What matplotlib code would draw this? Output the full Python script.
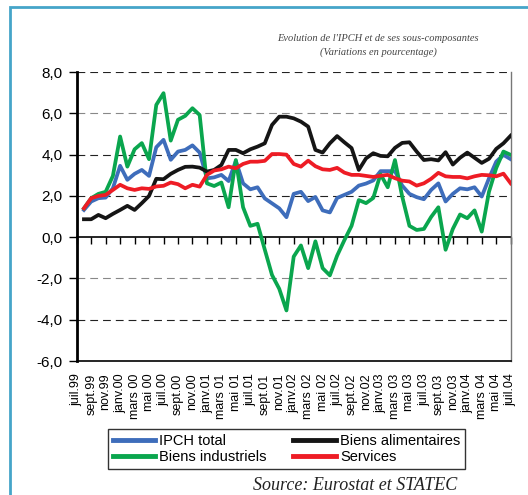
import numpy as np
import matplotlib
matplotlib.use("Agg")
import matplotlib.pyplot as plt
from matplotlib.patches import Rectangle

# month labels (every 2 months, juil.99 -> juil.04)
tick_labels = ["juil.99", "sept.99", "nov.99", "janv.00", "mars 00", "mai 00",
               "juil.00", "sept.00", "nov.00", "janv.01", "mars 01", "mai 01",
               "juil.01", "sept.01", "nov.01", "janv.02", "mars 02", "mai 02",
               "juil.02", "sept.02", "nov.02", "janv.03", "mars 03", "mai 03",
               "juil.03", "sept.03", "nov.03", "janv.04", "mars 04", "mai 04",
               "juil.04"]

# monthly values, aout 99 -> juil 04
ipch = [1.32, 1.73, 1.89, 1.92, 2.37, 3.46, 2.78, 3.07, 3.26, 2.97,
        4.36, 4.72, 3.75, 4.15, 4.23, 4.45, 4.10, 2.85, 2.90, 3.02,
        2.72, 3.70, 2.61, 2.32, 2.42, 1.88, 1.64, 1.40, 0.97, 2.10,
        2.20, 1.75, 1.95, 1.30, 1.20, 1.90, 2.05, 2.20, 2.50, 2.60,
        2.75, 3.20, 3.20, 3.20, 2.50, 2.10, 1.94, 1.84, 2.29, 2.61,
        1.73, 2.10, 2.37, 2.32, 2.42, 1.97, 2.85, 3.66, 3.99, 3.78]

alimentaires = [0.87, 0.87, 1.08, 0.92, 1.13, 1.32, 1.52, 1.32, 1.65, 2.00,
                2.83, 2.81, 3.07, 3.26, 3.41, 3.42, 3.37, 3.18, 3.26, 3.50,
                4.23, 4.23, 4.07, 4.26, 4.39, 4.55, 5.44, 5.84, 5.84, 5.76,
                5.60, 5.36, 4.23, 4.10, 4.55, 4.90, 4.60, 4.32, 3.26, 3.82,
                4.07, 3.94, 3.92, 4.33, 4.57, 4.60, 4.15, 3.74, 3.78, 3.72,
                4.12, 3.52, 3.85, 4.10, 3.85, 3.60, 3.80, 4.28, 4.55, 4.92]

industriels = [1.40, 1.89, 2.10, 2.20, 2.97, 4.88, 3.42, 4.26, 4.56, 3.78,
               6.41, 6.98, 4.68, 5.69, 5.88, 6.25, 5.92, 2.61, 2.48, 2.65,
               1.45, 3.74, 1.45, 0.55, 0.65, -0.60, -1.83, -2.50, -3.55, -0.94,
               -0.40, -1.50, -0.20, -1.50, -1.85, -0.90, -0.15, 0.55, 1.80, 1.65,
               1.90, 3.05, 2.42, 3.74, 1.97, 0.55, 0.35, 0.40, 0.98, 1.45,
               -0.61, 0.40, 1.10, 0.92, 1.30, 0.27, 2.20, 3.35, 4.15, 3.99]

services = [1.40, 1.89, 2.00, 2.05, 2.29, 2.54, 2.37, 2.29, 2.37, 2.34,
            2.46, 2.49, 2.65, 2.57, 2.37, 2.54, 2.45, 3.02, 3.23, 3.29,
            3.42, 3.34, 3.55, 3.66, 3.66, 3.70, 4.03, 4.03, 4.00, 3.55,
            3.42, 3.71, 3.44, 3.29, 3.26, 3.36, 3.13, 3.02, 3.02, 2.97,
            2.92, 2.98, 3.02, 2.86, 2.74, 2.70, 2.50, 2.61, 2.83, 3.12,
            2.95, 2.92, 2.92, 2.85, 2.95, 3.02, 3.00, 2.95, 3.08, 2.61]

x = np.arange(1, len(ipch) + 1)
xt = np.arange(0, 2 * len(tick_labels), 2)
yticks = np.arange(-6, 9, 2)

plt.rcParams['font.family'] = ['Liberation Sans', 'DejaVu Sans']

fig = plt.figure(figsize=(5.28, 4.95), dpi=100)
fig.patches.append(Rectangle((10 / 528, -0.1), 1.2, 1.1 - 7 / 495,
                             transform=fig.transFigure, fill=False,
                             edgecolor='#45A5C9', lw=2.0))

ax = fig.add_axes([0.1453, 0.2707, 0.8219, 0.5836])

# gridlines, alternating dark / grey like the original
grid_cols = {8: '#222222', 6: '#888888', 4: '#222222', 2: '#222222',
             -2: '#888888', -4: '#222222'}
for yv, c in grid_cols.items():
    ax.axhline(yv, color=c, lw=0.8, ls=(0, (7, 4.5)), zorder=1)

ax.plot(x, ipch, color='#3E6DBB', lw=2.7, label='IPCH total', zorder=3)
ax.plot(x, industriels, color='#0AA64E', lw=2.7, label='Biens industriels', zorder=3)
ax.plot(x, alimentaires, color='#151515', lw=2.7, label='Biens alimentaires', zorder=3)
ax.plot(x, services, color='#EE1C25', lw=2.7, label='Services', zorder=4)

ax.set_xlim(0, 60)
ax.set_ylim(-6, 8)
ax.set_yticks(yticks)
ax.set_yticklabels([f"{v:.1f}".replace('.', ',') for v in yticks], fontsize=11)
ax.tick_params(axis='y', direction='out', length=6, width=1, pad=4)

ax.set_xticks(xt)
ax.set_xticklabels(tick_labels, rotation=90, fontsize=9)
ax.tick_params(axis='x', length=0, pad=9)

ax.spines['top'].set_visible(False)
ax.spines['left'].set_linewidth(2.0)
ax.spines['bottom'].set_linewidth(1.2)
ax.spines['right'].set_color('#777777')
ax.spines['right'].set_linewidth(1.0)

# zero line with its tick marks
sec = ax.secondary_xaxis(6 / 14)
sec.set_xticks(xt)
sec.set_xticklabels([])
sec.tick_params(direction='out', length=5, width=1, color='black')
for s in sec.spines.values():
    s.set_color('black')
    s.set_linewidth(1.2)

handles, labels = ax.get_legend_handles_labels()
leg = fig.legend(handles, labels, ncol=2, loc='center',
                 bbox_to_anchor=(0.5426, 0.0929), fontsize=10.5,
                 frameon=True, fancybox=False, edgecolor='black',
                 handlelength=2.9, handletextpad=0.3, columnspacing=1.8,
                 labelspacing=0.1, borderpad=0.35, borderaxespad=0)
leg.get_frame().set_linewidth(1.0)
for h in leg.get_lines():
    h.set_linewidth(3.5)

fig.text(0.716, 0.923, "Evolution de l'IPCH et de ses sous-composantes",
         ha='center', va='center', fontsize=7.5, style='italic',
         family='Liberation Serif', color='#444444')
fig.text(0.716, 0.895, "(Variations en pourcentage)",
         ha='center', va='center', fontsize=7.5, style='italic',
         family='Liberation Serif', color='#444444')
fig.text(253 / 528, 1 - 477 / 495, "Source: Eurostat et STATEC",
         ha='left', va='top', fontsize=13, style='italic',
         family='Liberation Serif', color='#222222')

fig.savefig('out.png', dpi=100)
